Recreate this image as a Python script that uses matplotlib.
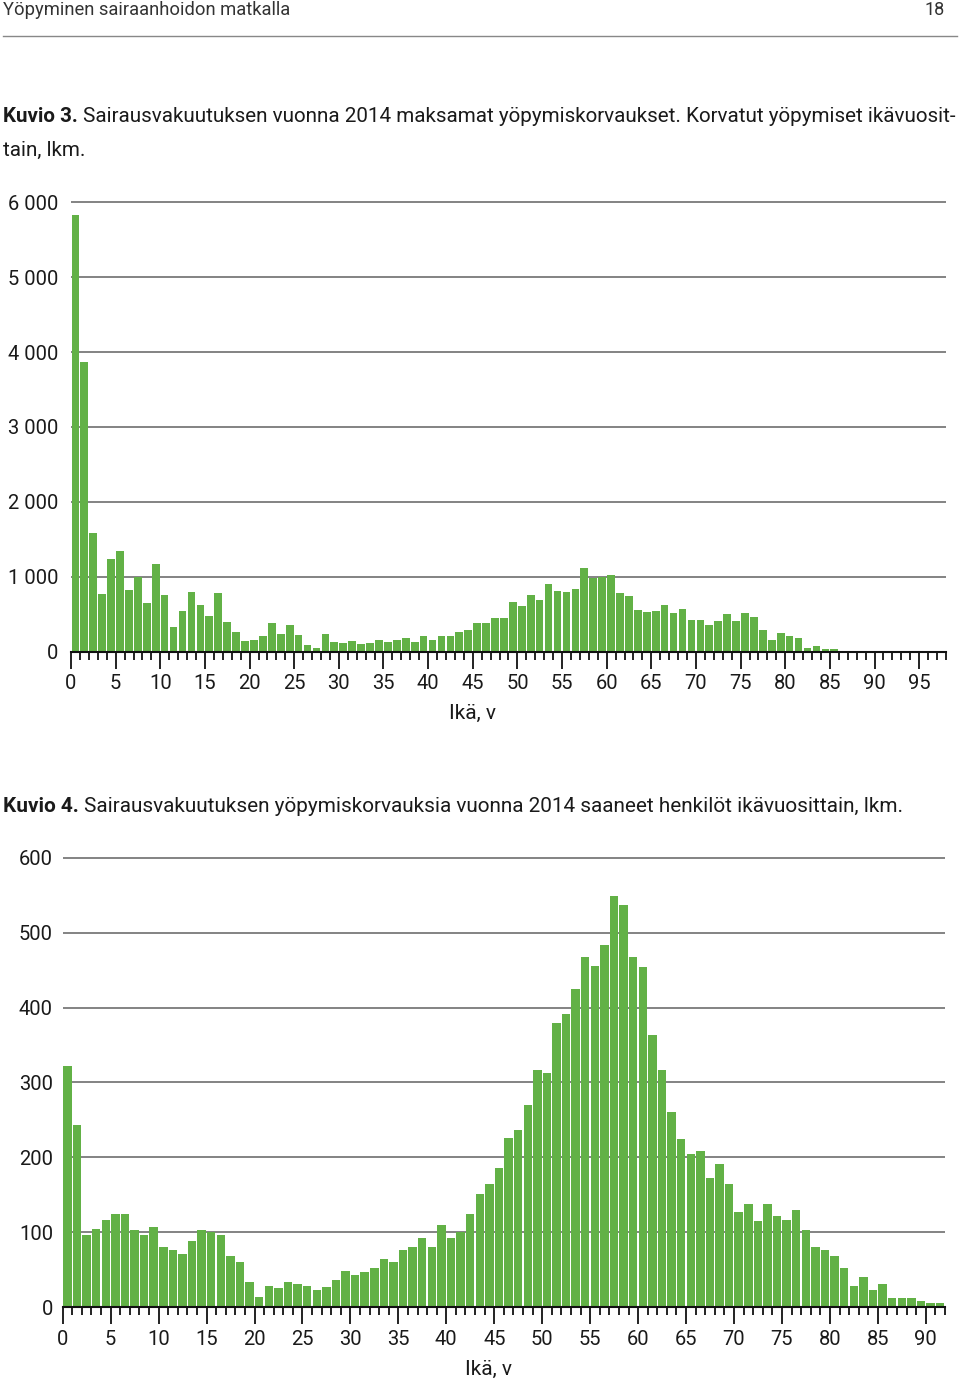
import numpy as np
import matplotlib
matplotlib.use('Agg')
import matplotlib.pyplot as plt

plt.rcParams['font.family'] = ['Roboto', 'DejaVu Sans']

# Kuvio 3: korvatut yöpymiset ikävuosittain (ikä 0..89)
ages3 = np.arange(0, 90)
nights = [5830, 3867, 1584, 770, 1242, 1340, 823, 997, 645, 1175,
          752, 329, 547, 792, 627, 481, 779, 396, 267, 142,
          156, 214, 387, 231, 360, 222, 89, 53, 231, 125,
          116, 148, 105, 122, 158, 135, 158, 185, 135, 216,
          158, 203, 212, 257, 284, 387, 383, 450, 455, 657,
          612, 756, 689, 900, 815, 792, 837, 1116, 981, 999,
          1022, 779, 738, 554, 536, 545, 617, 522, 576, 419,
          419, 356, 414, 509, 405, 522, 464, 288, 162, 248,
          212, 189, 45, 72, 32, 40, 13, 13, 9, 9]
yticks3 = [0, 1000, 2000, 3000, 4000, 5000, 6000]
ylabels3 = ['0', '1 000', '2 000', '3 000', '4 000', '5 000', '6 000']
xticks3 = list(range(0, 100, 5))

# Kuvio 4: henkilöt ikävuosittain (ikä 0..91)
ages4 = np.arange(0, 92)
persons = [322, 243, 96, 105, 117, 125, 125, 103, 96, 107,
           80, 77, 71, 88, 103, 100, 96, 69, 60, 34,
           14, 28, 26, 34, 31, 29, 23, 27, 36, 48,
           43, 47, 53, 65, 60, 76, 80, 93, 80, 110,
           93, 100, 125, 151, 165, 186, 226, 237, 270, 317,
           313, 380, 392, 425, 468, 456, 483, 549, 537, 468,
           454, 363, 317, 260, 224, 204, 208, 172, 191, 164,
           127, 138, 115, 138, 122, 116, 130, 103, 81, 76,
           68, 52, 28, 40, 23, 31, 12, 12, 12, 8,
           6, 6]
yticks4 = [0, 100, 200, 300, 400, 500, 600]
xticks4 = list(range(0, 95, 5))

green = '#62b146'
txt = '#1a1a1a'
W, H = 960, 1383

fig = plt.figure(figsize=(W / 100, H / 100), dpi=100)
renderer = fig.canvas.get_renderer()


def fx(px):
    return px / W


def fy(py):
    return 1 - py / H


def fitted_text(x, y, s, width, size, **kw):
    # shrink the font so the text spans about the same width as in the reference
    t = fig.text(fx(x), fy(y), s, fontsize=size, va='center', ha='left', **kw)
    w = t.get_window_extent(renderer=renderer).width
    if w > width:
        t.set_fontsize(size * width / w)
    return t


# header
fitted_text(3, 10, 'Yöpyminen sairaanhoidon matkalla', 288, 14, color='#333333')
fig.text(fx(945), fy(10), '18', fontsize=13, color='#333333', va='center', ha='right')
fig.add_artist(plt.Line2D([fx(3), fx(957)], [fy(36), fy(36)], color='#888888', lw=1))


def caption(x, y, bold, rest, width, size):
    t1 = fig.text(fx(x), fy(y), bold, fontsize=size, fontweight='bold',
                  color=txt, va='center', ha='left')
    t2 = fig.text(0, fy(y), rest, fontsize=size, color=txt, va='center', ha='left')
    w = (t1.get_window_extent(renderer=renderer).width + 5
         + t2.get_window_extent(renderer=renderer).width)
    if w > width:
        size = size * width / w
        t1.set_fontsize(size)
        t2.set_fontsize(size)
    bb = t1.get_window_extent(renderer=renderer)
    t2.set_x((bb.x1 + 5) / W)
    return size


s3 = caption(3, 117, 'Kuvio 3.', 'Sairausvakuutuksen vuonna 2014 maksamat yöpymiskorvaukset. '
             'Korvatut yöpymiset ikävuosit-', 954, 17)
fig.text(fx(3), fy(150), 'tain, lkm.', fontsize=s3, color=txt, va='center', ha='left')
caption(3, 806, 'Kuvio 4.', 'Sairausvakuutuksen yöpymiskorvauksia vuonna 2014 saaneet '
        'henkilöt ikävuosittain, lkm.', 902, 17)


def setup(ax, xmax, yticks, ylabels, xticks, ypad, labelx):
    ax.set_xlim(0, xmax)
    ax.set_yticks(yticks)
    ax.set_yticklabels(ylabels)
    ax.set_xticks(xticks)
    ax.set_xticklabels([str(v) for v in xticks])
    ax.set_xticks(range(0, xmax + 1), minor=True)
    for s in ['left', 'right', 'top']:
        ax.spines[s].set_visible(False)
    ax.spines['bottom'].set_linewidth(1.5)
    ax.spines['bottom'].set_color('#111111')
    ax.yaxis.grid(True, color='#7a7a7a', lw=1.3)
    ax.set_axisbelow(True)
    ax.tick_params(axis='y', length=0, pad=ypad, labelsize=14.5, labelcolor=txt)
    ax.tick_params(axis='x', which='major', length=12, width=1.3, color='#111111',
                   labelsize=14.5, labelcolor=txt, pad=4)
    ax.tick_params(axis='x', which='minor', length=6, width=1.3, color='#111111')
    ax.set_xlabel('Ikä, v', fontsize=15, color=txt)
    # label sits a bit left of centre in the reference
    ax.xaxis.set_label_coords(labelx, -0.115)


# top chart
ax1 = fig.add_axes([fx(71), fy(651.7), fx(946) - fx(71), (651.7 - 197.8) / H])
ax1.bar(ages3 + 0.06, nights, width=0.86, align='edge', color=green)
ax1.set_ylim(0, 6060)
setup(ax1, 98, yticks3, ylabels3, xticks3, 9, 0.459)

# bottom chart
ax2 = fig.add_axes([fx(62.7), fy(1307.3), fx(945) - fx(62.7), (1307.3 - 853.2) / H])
ax2.bar(ages4 + 0.05, persons, width=0.88, align='edge', color=green)
ax2.set_ylim(0, 606)
setup(ax2, 92, yticks4, [str(v) for v in yticks4], xticks4, 7, 0.483)

fig.savefig('out.png', dpi=100)
